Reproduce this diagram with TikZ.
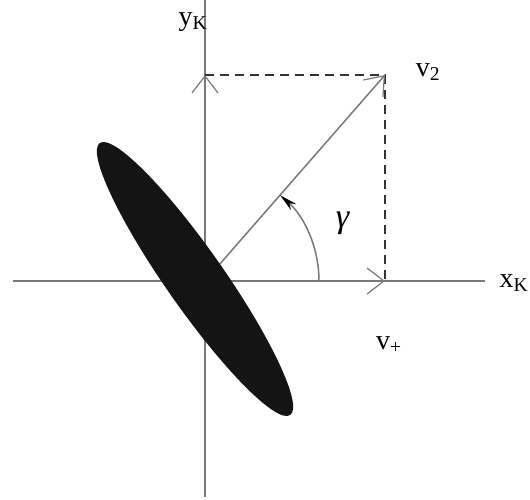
\documentclass[tikz,border=0pt]{standalone}
\usepackage{fontspec}
\setmainfont{Liberation Serif}
\usetikzlibrary{arrows.meta}
\definecolor{AxisGray}{HTML}{787878}
\definecolor{DGray}{HTML}{333333}
\definecolor{Blob}{HTML}{141414}
\newcommand{\Canvas}{
\useasboundingbox (-205,-218) rectangle (325,281);

\coordinate (origin) at (0,0);
\coordinate (x-start) at (-192,0);
\coordinate (x-end) at (280,0);
\coordinate (y-start) at (0,-216);
\coordinate (y-end) at (0,281);
\coordinate (tip) at (180,206);
\coordinate (tip-x) at (180,0);
\coordinate (tip-y) at (0,206);
\coordinate (arc-start) at (114,0);
\coordinate (blob-center) at (-10,2);
}

\begin{document}
\begin{tikzpicture}[x=1pt, y=1pt, font=\fontsize{28}{30}\selectfont,
    axis/.style={AxisGray, line width=2.5pt},
    barb/.style={-{Straight Barb[length=17pt, width=26pt, line width=1.2pt]}}]
\Canvas
\draw[axis] (x-start) -- (x-end);
\draw[axis] (y-start) -- (y-end);
\draw[axis, barb] (origin) -- (tip-x);
\draw[axis, barb] (origin) -- (tip-y);

\draw[DGray, line width=2pt, dash pattern=on 9pt off 6pt] (tip-y) -- (tip) -- (tip-x);
\draw[AxisGray, line width=1.5pt, barb] (origin) -- (tip);
\draw[AxisGray, line width=1.5pt, -{Stealth[length=18pt, width=8pt, black]}]
    (arc-start) arc[start angle=0, end angle=48.8, radius=114];

\fill[Blob, rotate around={-55:(blob-center)}] (blob-center) ellipse [x radius=166, y radius=29];

\node (yk-label) at (-12,259) {y\textsubscript{K}};
\node (xk-label) at (309,-2) {x\textsubscript{K}};
\node (v2-label) at (223,209) {v\textsubscript{2}};
\node (vp-label) at (184,-64) {v\textsubscript{+}};
\node[font=\fontsize{34}{36}\selectfont] (gamma-label) at (138,58) {\textit{γ}};

\end{tikzpicture}
\end{document}
